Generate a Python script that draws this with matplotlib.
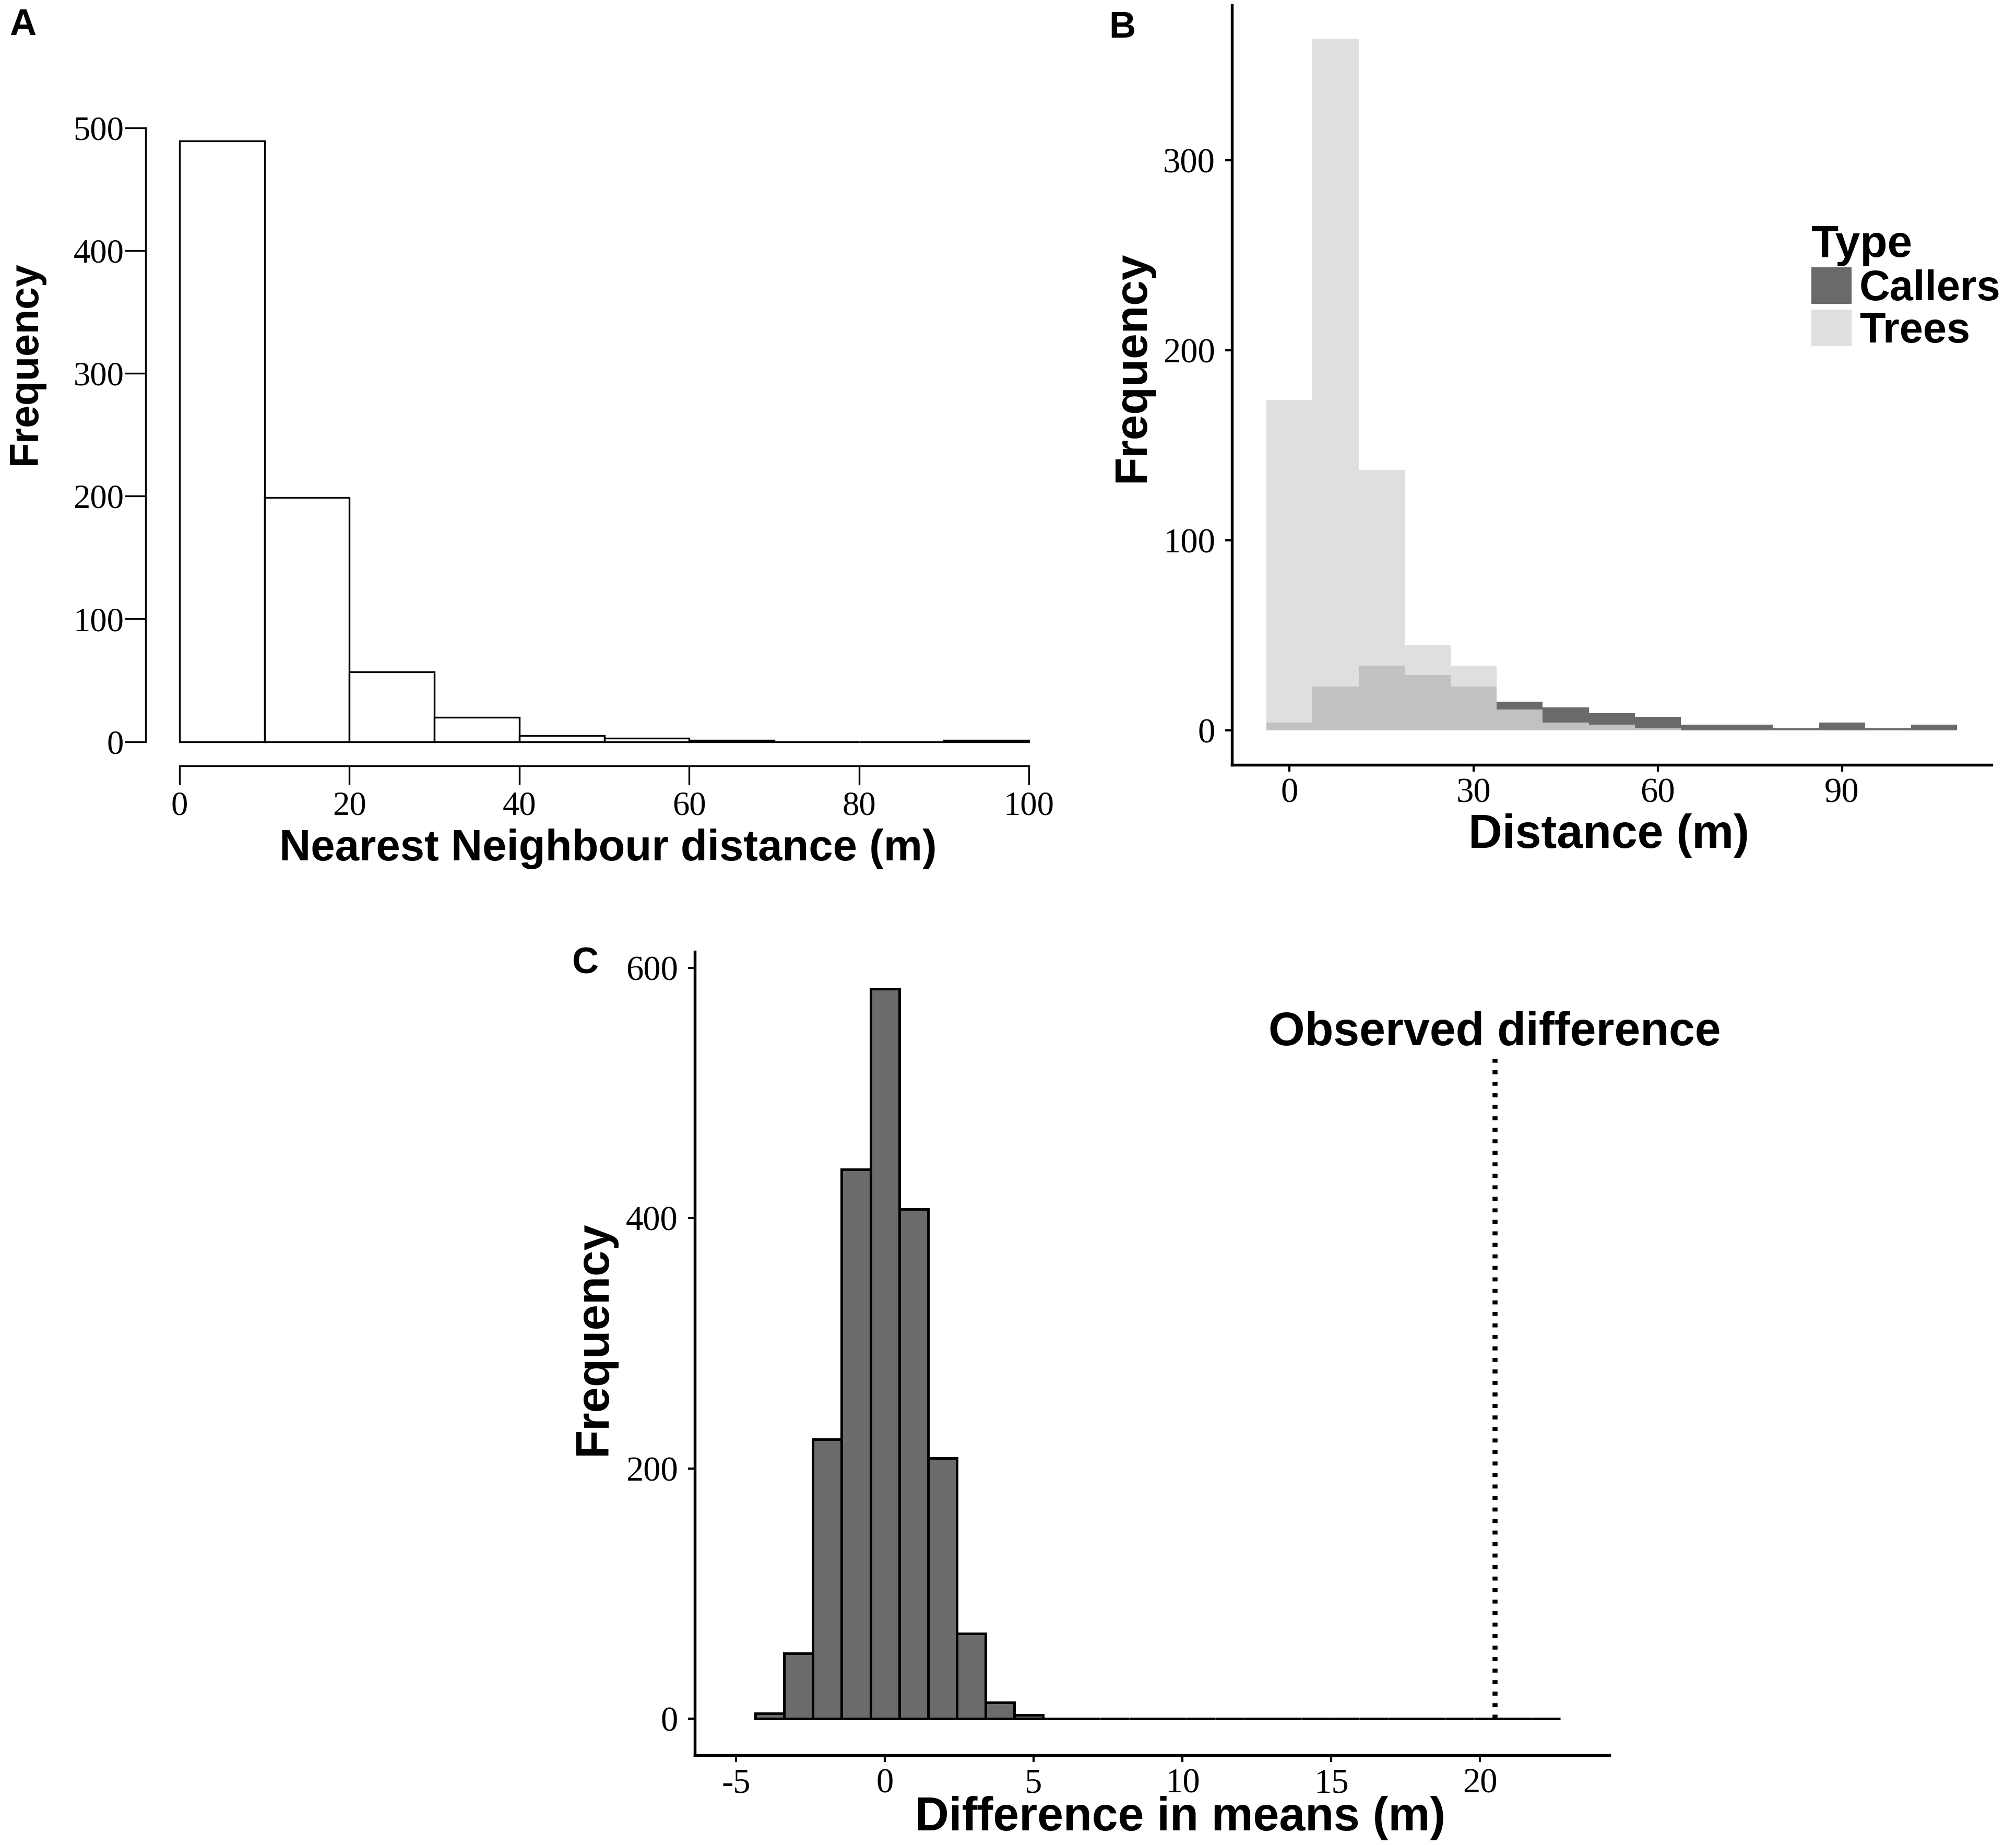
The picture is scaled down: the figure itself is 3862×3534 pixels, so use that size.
import numpy as np
import matplotlib
matplotlib.use("Agg")
import matplotlib.pyplot as plt
from matplotlib.patches import Patch

# ---- data -----------------------------------------------------------
# A: nearest neighbour distance histogram (bins of 10 m)
a_edges = np.arange(0, 110, 10)
a_counts = [489, 199, 57, 20, 5, 3, 1, 0, 0, 1]

# B: distance histogram, callers vs trees (bins of 7.5 m centred on 0)
b_centers = np.arange(0, 112.5, 7.5)
b_callers = [4, 23, 34, 29, 23, 15, 12, 9, 7, 3, 3, 1, 4, 1, 3]
b_trees = [174, 364, 137, 45, 34, 11, 4, 3, 1, 0, 0, 0, 0, 0, 0]
b_types = ["Callers", "Trees"]

# C: permutation null distribution of the difference in means
c_width = 0.966
c_centers = np.arange(-4, 24) * c_width
c_counts = [4, 52, 223, 439, 583, 407, 208, 68, 13, 3] + [0] * 18
obs_diff = 20.5
obs_line_top = 530
obs_label_y = 548

SERIF = "Liberation Serif"
SANS = "Liberation Sans"
plt.rcParams["font.family"] = [SANS, "DejaVu Sans"]
plt.rcParams["axes.unicode_minus"] = False

fig = plt.figure(figsize=(3862 / 300, 3534 / 300), dpi=300)

# ---- panel A (R base graphics look) ----------------------------------
axA = fig.add_axes([0.07224, 0.5850, 0.4550, 0.3515])
axA.bar(a_edges[:-1], a_counts, width=10, align="edge", color="white",
        edgecolor="black", linewidth=0.8)
axA.set_xlim(-4, 104)
axA.set_ylim(-19.56, 508.56)
for s in ["top", "right"]:
    axA.spines[s].set_visible(False)
axA.spines["left"].set_bounds(0, 500)
axA.spines["bottom"].set_bounds(0, 100)
for s in ["left", "bottom"]:
    axA.spines[s].set_linewidth(0.8)
axA.set_xticks(np.arange(0, 101, 20))
axA.set_yticks(np.arange(0, 501, 100))
axA.tick_params(axis="y", length=9.5, width=0.8, pad=0.5)
axA.tick_params(axis="x", length=8.6, width=0.8, pad=3)
for lab in axA.get_xticklabels() + axA.get_yticklabels():
    lab.set_fontfamily(SERIF)
    lab.set_fontsize(15.5)
axA.set_xlabel("Nearest Neighbour distance (m)", fontsize=20, fontweight="bold")
axA.set_ylabel("Frequency", fontsize=18.5, fontweight="bold")
axA.xaxis.set_label_coords(0.504, -0.128)
axA.yaxis.set_label_coords(-0.131, 0.621)
axA.xaxis.label.set_va("center")
axA.yaxis.label.set_va("center")

# ---- panel B (ggplot classic look) -----------------------------------
callers_col, trees_col = "#6a6a6a", "#d8d8d8"
axB = fig.add_axes([0.6111, 0.5855, 0.3768, 0.4117])
axB.bar(b_centers, b_callers, width=7.5, color=callers_col, linewidth=0)
axB.bar(b_centers, b_trees, width=7.5, color=trees_col, alpha=0.8, linewidth=0)
axB.set_xlim(-9.375, 114.375)
axB.set_ylim(-18.2, 381.7)
axB.set_xticks([0, 30, 60, 90])
axB.set_yticks([0, 100, 200, 300])

# ---- panel C ---------------------------------------------------------
axC = fig.add_axes([0.3446, 0.04867, 0.4537, 0.4355])
axC.bar(c_centers, c_counts, width=c_width, color="#6b6b6b",
        edgecolor="black", linewidth=1.2)
axC.vlines(obs_diff, 0, obs_line_top, colors="black", linewidth=2.3,
           linestyles=(0, (0.8, 1.5)))
axC.text(obs_diff, obs_label_y, "Observed difference", ha="center", va="center",
         fontsize=21.5, fontweight="bold")
axC.set_xlim(-6.39, 24.35)
axC.set_ylim(-29.2, 612.8)
axC.set_xticks([-5, 0, 5, 10, 15, 20])
axC.set_yticks([0, 200, 400, 600])

for ax in (axB, axC):
    for s in ["top", "right"]:
        ax.spines[s].set_visible(False)
    for s in ["left", "bottom"]:
        ax.spines[s].set_linewidth(1.3)
    ax.tick_params(axis="y", length=3.2, width=1.0, pad=4.5)
    ax.tick_params(axis="x", length=3.2, width=1.0, pad=2.6)
    for lab in ax.get_xticklabels() + ax.get_yticklabels():
        lab.set_fontfamily(SERIF)
        lab.set_fontsize(16)

axB.set_xlabel("Distance (m)", fontsize=21.5, fontweight="bold")
axB.set_ylabel("Frequency", fontsize=21, fontweight="bold")
axB.xaxis.set_label_coords(0.496, -0.0935)
axB.yaxis.set_label_coords(-0.131, 0.524)
axC.set_xlabel("Difference in means (m)", fontsize=21.5, fontweight="bold")
axC.set_ylabel("Frequency", fontsize=21.3, fontweight="bold")
axC.xaxis.set_label_coords(0.531, -0.0786)
axC.yaxis.set_label_coords(-0.110, 0.5185)
for ax in (axB, axC):
    ax.xaxis.label.set_va("center")
    ax.yaxis.label.set_va("center")

# legend for B
handles = [Patch(facecolor=callers_col, edgecolor="none"),
           Patch(facecolor=trees_col, alpha=0.8, edgecolor="none")]
leg = fig.legend(handles, b_types, loc="upper left",
                 bbox_to_anchor=(3470 / 3862, 1 - 430 / 3534),
                 frameon=False, fontsize=19.5, title="Type",
                 title_fontproperties={"size": 20.5, "weight": "bold"},
                 handlelength=0.95, handleheight=0.95, handletextpad=0.18,
                 labelspacing=0.02, borderpad=0, borderaxespad=0,
                 alignment="left")
for t in leg.get_texts():
    t.set_fontweight("bold")

# panel letters
for letter, x, y in [("A", 0.0114, 0.986), ("B", 0.5567, 0.9847), ("C", 0.2902, 0.4774)]:
    fig.text(x, y, letter, ha="center", va="center", fontsize=17, fontweight="bold")

fig.savefig("out.png", dpi=300)
